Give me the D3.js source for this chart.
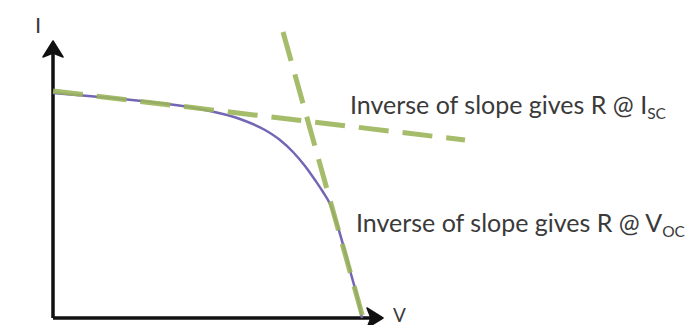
<!DOCTYPE html>
<html>
<head>
<meta charset="utf-8">
<script src="https://cdn.jsdelivr.net/npm/d3@7"></script>
<style>
  html, body { margin: 0; padding: 0; background: #fff; }
  svg { display: block; }
  text { font-family: Lato, "Open Sans", sans-serif; fill: #3a3a3a; }
</style>
</head>
<body>
<svg id="chart" width="688" height="325"></svg>
<script>
// I–V curve of a solar cell (arbitrary units)
const voltage = [0, 9.4, 19.4, 29.4, 37.4, 42.4, 45.4, 48, 50.4, 52.4, 54, 55.4, 56.8, 58.2, 59.6, 61, 61.8];
const current = [45, 44.2, 43.2, 41.8, 39.8, 37.6, 35.6, 33.2, 30.4, 27.6, 25.2, 22.8, 18.8, 14, 8.8, 3.6, 0];

// Tangent near short circuit (shallow) and near open circuit (steep)
const iscTangentV = [0, 82.4];
const iscTangentI = [45.4, 35.6];
const vocTangentV = [46, 62];
const vocTangentI = [57.2, 0];

const axisLabels = ["V", "I"];
const annotations = [
  { main: "Inverse of slope gives R @ I", sub: "SC", v: 59.4, i: 40.8 },
  { main: "Inverse of slope gives R @ V", sub: "OC", v: 60.6, i: 17.2 }
];

const svg = d3.select("#chart");
const x = d3.scaleLinear().domain([0, 66]).range([53, 383]);
const y = d3.scaleLinear().domain([0, 55.4]).range([318, 41]);

const line = d3.line().x(d => x(d[0])).y(d => y(d[1]));

// Axes with arrowheads
const axisColor = "#111";
svg.append("path")
  .attr("d", `M${x(0)},${y(0)} L${x(0)},${y(55.4) + 10} M${x(0)},${y(0)} L${x(66) - 10},${y(0)}`)
  .attr("fill", "none").attr("stroke", axisColor).attr("stroke-width", 3.5)
  .attr("stroke-linejoin", "miter");
svg.append("path")
  .attr("d", `M${x(0)},${y(55.4)} L${x(0) + 10},${y(55.4) + 16} L${x(0)},${y(55.4) + 12} L${x(0) - 10},${y(55.4) + 16} Z`)
  .attr("fill", axisColor).attr("stroke", axisColor).attr("stroke-width", 1.5).attr("stroke-linejoin", "round");
svg.append("path")
  .attr("d", `M${x(66)},${y(0)} L${x(66) - 16},${y(0) - 10} L${x(66) - 12},${y(0)} L${x(66) - 16},${y(0) + 10} Z`)
  .attr("fill", axisColor).attr("stroke", axisColor).attr("stroke-width", 1.5).attr("stroke-linejoin", "round");

svg.append("text").attr("x", x(66) + 10).attr("y", y(0) + 4)
  .attr("font-size", 19).text(axisLabels[0]);
svg.append("text").attr("x", x(0) - 18).attr("y", 33)
  .attr("font-size", 22).text(axisLabels[1]);

// I–V curve
svg.append("path")
  .datum(d3.zip(voltage, current))
  .attr("d", line.curve(d3.curveMonotoneX))
  .attr("fill", "none").attr("stroke", "#7466b4").attr("stroke-width", 2.5);

// Dashed tangents
const dashed = d3.line().x(d => x(d[0])).y(d => y(d[1]));
[[iscTangentV, iscTangentI], [vocTangentV, vocTangentI]].forEach(([vs, is]) => {
  svg.append("path")
    .datum(d3.zip(vs, is))
    .attr("d", dashed)
    .attr("fill", "none").attr("stroke", "#9bb55a").attr("stroke-opacity", 0.9)
    .attr("stroke-width", 5).attr("stroke-dasharray", "30,14");
});

// Annotations
const labelSize = 25;
annotations.forEach(a => {
  const t = svg.append("text").attr("x", x(a.v)).attr("y", y(a.i)).attr("font-size", labelSize);
  t.append("tspan").text(a.main);
  t.append("tspan").attr("font-size", labelSize * 0.62).attr("dy", labelSize * 0.2).text(a.sub);
});
</script>
</body>
</html>
